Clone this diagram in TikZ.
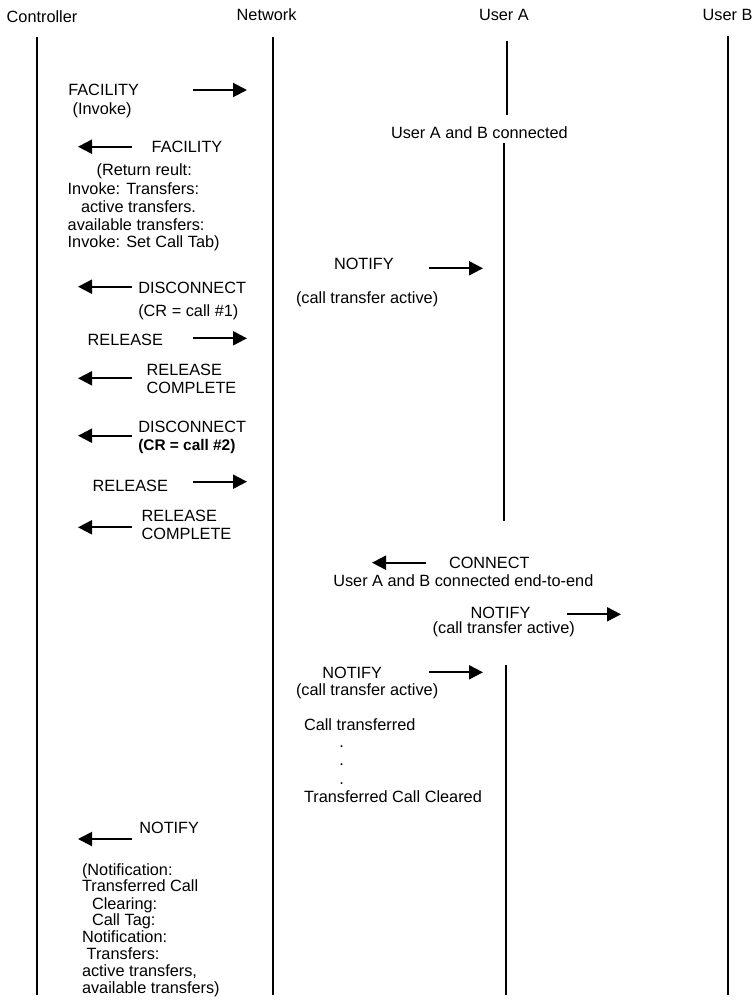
\documentclass[tikz,border=0pt]{standalone}
\usepackage{fontspec}
\setmainfont{Liberation Sans}
\usetikzlibrary{arrows.meta}
\begin{document}
\begin{tikzpicture}[x=1pt,y=-1pt,
  lbl/.style={inner sep=0pt, outer sep=0pt, anchor=base west, font=\fontsize{16.3}{18}\selectfont},
  dotlbl/.style={inner sep=0pt, outer sep=0pt, anchor=base, font=\fontsize{16.3}{18}\selectfont},
  life/.style={line width=2.2pt},
  lifea/.style={line width=1.4pt},
  msg/.style={line width=2pt, -{Triangle[length=14pt,width=14pt]}},
]
\useasboundingbox (0,0) rectangle (754,1001);

% headers
\node[lbl] (hC) at (6.7,22.5) {Controller};
\node[lbl] (hN) at (236.7,20.7) {Network};
\node[lbl] (hA) at (479,20.7) {User A};
\node[lbl] (hB) at (702.7,20.7) {User B};

% lifelines
\coordinate (c0) at (37,37);   \coordinate (c1) at (37,995);
\coordinate (n0) at (273,37);  \coordinate (n1) at (273,995);
\coordinate (a0) at (507,41);  \coordinate (a1) at (507,115);
\coordinate (a2) at (504,143); \coordinate (a3) at (504,521);
\coordinate (a4) at (506,665); \coordinate (a5) at (506,995);
\coordinate (b0) at (728,36);  \coordinate (b1) at (728,995);
\draw[life] (c0) -- (c1);
\draw[life] (n0) -- (n1);
\draw[lifea] (a0) -- (a1);
\draw[lifea] (a2) -- (a3);
\draw[life] (a4) -- (a5);
\draw[life] (b0) -- (b1);

% FACILITY (Invoke)
\node[lbl] (f1) at (68.3,95.7) {FACILITY};
\node[lbl] (f1b) at (72.7,114.3) {(Invoke)};
\coordinate (m1s) at (193,90); \coordinate (m1e) at (247,90);
\draw[msg] (m1s) -- (m1e);

% FACILITY return
\coordinate (m2s) at (132,146.7); \coordinate (m2e) at (78,146.7);
\draw[msg] (m2s) -- (m2e);
\node[lbl] (f2) at (151.7,152.3) {FACILITY};
\node[lbl] (f2a) at (96.7,175.7) {(Return reult:};
\node[lbl] (f2b) at (67.7,194) {Invoke: Transfers:};
\node[lbl] (f2c) at (81,212) {active transfers.};
\node[lbl] (f2d) at (67.7,230) {available transfers:};
\node[lbl] (f2e) at (67.7,247.7) {Invoke: Set Call Tab)};

% User A and B connected
\node[lbl] (uab) at (391,138.3) {User A and B connected};

% NOTIFY to User A
\node[lbl] (nt1) at (334,269.3) {NOTIFY};
\node[lbl] (nt1b) at (296,303.3) {(call transfer active)};
\coordinate (m3s) at (429,268.3); \coordinate (m3e) at (483,268.3);
\draw[msg] (m3s) -- (m3e);

% DISCONNECT #1
\coordinate (m4s) at (132,286.7); \coordinate (m4e) at (78,286.7);
\draw[msg] (m4s) -- (m4e);
\node[lbl] (d1) at (138.3,293.3) {DISCONNECT};
\node[lbl] (d1b) at (138.3,316.7) {(CR = call \#1)};

% RELEASE #1
\node[lbl] (r1) at (87.7,345) {RELEASE};
\coordinate (m5s) at (193,338.3); \coordinate (m5e) at (247,338.3);
\draw[msg] (m5s) -- (m5e);

% RELEASE COMPLETE #1
\coordinate (m6s) at (132,378.3); \coordinate (m6e) at (78,378.3);
\draw[msg] (m6s) -- (m6e);
\node[lbl] (rc1a) at (146.7,375) {RELEASE};
\node[lbl] (rc1b) at (146.7,393.3) {COMPLETE};

% DISCONNECT #2
\coordinate (m7s) at (132,435.7); \coordinate (m7e) at (78,435.7);
\draw[msg] (m7s) -- (m7e);
\node[lbl] (d2) at (138.3,432.3) {DISCONNECT};
\node[lbl, font=\fontsize{15.4}{18}\selectfont\bfseries] (d2b) at (138.3,450) {(CR = call \#2)};

% RELEASE #2
\node[lbl] (r2) at (92.7,491.7) {RELEASE};
\coordinate (m8s) at (193,481.7); \coordinate (m8e) at (247,481.7);
\draw[msg] (m8s) -- (m8e);

% RELEASE COMPLETE #2
\coordinate (m9s) at (132,527.3); \coordinate (m9e) at (78,527.3);
\draw[msg] (m9s) -- (m9e);
\node[lbl] (rc2a) at (141.7,521.7) {RELEASE};
\node[lbl] (rc2b) at (141.7,539.3) {COMPLETE};

% CONNECT
\coordinate (m10s) at (426,562.7); \coordinate (m10e) at (372,562.7);
\draw[msg] (m10s) -- (m10e);
\node[lbl] (cn) at (449,568.3) {CONNECT};
\node[lbl] (cnb) at (333.3,586.7) {User A and B connected end-to-end};

% NOTIFY to User B
\node[lbl] (nt2) at (470.7,618.3) {NOTIFY};
\node[lbl] (nt2b) at (432.7,633.3) {(call transfer active)};
\coordinate (m11s) at (567,614.3); \coordinate (m11e) at (621,614.3);
\draw[msg] (m11s) -- (m11e);

% NOTIFY to User A
\node[lbl] (nt3) at (322.3,678.3) {NOTIFY};
\node[lbl] (nt3b) at (296,695) {(call transfer active)};
\coordinate (m12s) at (429,672.3); \coordinate (m12e) at (483,672.3);
\draw[msg] (m12s) -- (m12e);

% Call transferred
\node[lbl] (ct) at (304,730) {Call transferred};
\node[dotlbl] (dt1) at (341.7,747.3) {.};
\node[dotlbl] (dt2) at (341.7,765.7) {.};
\node[dotlbl] (dt3) at (341.7,784) {.};
\node[lbl] (tcc) at (304,802.3) {Transferred Call Cleared};

% NOTIFY to Controller
\coordinate (m13s) at (132,839); \coordinate (m13e) at (78,839);
\draw[msg] (m13s) -- (m13e);
\node[lbl] (nt4) at (139.3,833.3) {NOTIFY};
\node[lbl] (nt4a) at (82,875) {(Notification:};
\node[lbl] (nt4b) at (82,891.7) {Transferred Call};
\node[lbl] (nt4c) at (92,909) {Clearing:};
\node[lbl] (nt4d) at (92,925.7) {Call Tag:};
\node[lbl] (nt4e) at (82,942.3) {Notification:};
\node[lbl] (nt4f) at (86.7,959.3) {Transfers:};
\node[lbl] (nt4g) at (82,976.7) {active transfers,};
\node[lbl] (nt4h) at (82,993.3) {available transfers)};
\end{tikzpicture}
\end{document}
